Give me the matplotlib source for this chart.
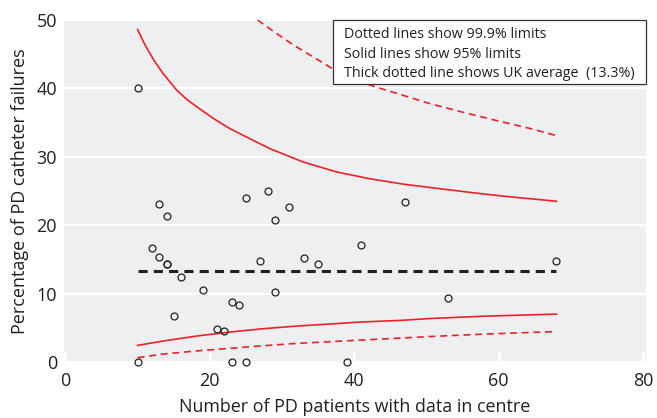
import matplotlib
matplotlib.use("Agg")
import matplotlib.pyplot as plt
from matplotlib.patches import Rectangle

plt.rcParams['font.family'] = ['Open Sans', 'DejaVu Sans']

# Centre data: number of PD patients and percentage of catheter failures
n_patients = [10, 10, 12, 13, 13, 14, 14, 14, 15, 16, 19, 21, 22, 23, 23, 24, 25, 25,
              27, 28, 29, 29, 31, 33, 35, 39, 41, 47, 53, 68]
pct_fail = [40.0, 0.0, 16.7, 23.1, 15.4, 21.4, 14.3, 14.3, 6.7, 12.5, 10.5, 4.8, 4.5, 8.7, 0.0,
            8.3, 24.0, 0.0, 14.8, 25.0, 20.7, 10.3, 22.6, 15.2, 14.3, 0.0, 17.1, 23.4, 9.4, 14.7]

uk_average = 13.3
avg_range = [10, 68]

# Control limits
up95_n = [10, 11, 12.2, 13.5, 15.4, 16.8, 18.2, 20.5, 22.8, 26.2, 28.3, 32.9, 37.5, 42.1,
          46.8, 51.4, 56.0, 60.6, 68]
upper95 = [48.6, 46.4, 44.2, 42.2, 39.75, 38.4, 37.3, 35.6, 34.1, 32.3, 31.2, 29.25, 27.8, 26.8,
           26.0, 25.4, 24.8, 24.25, 23.5]
up999_n = [26.6, 29.0, 31.5, 36.8, 42.1, 45.8, 50.4, 55.1, 59.7, 64.3, 68]
upper999 = [50.0, 48.2, 46.4, 43.0, 40.5, 39.3, 37.8, 36.5, 35.3, 34.15, 33.1]
low_n = [10, 13.5, 18.2, 22.8, 27.4, 32.0, 36.6, 40.8, 46.5, 50.4, 58, 68]
lower95 = [2.43, 3.06, 3.8, 4.38, 4.87, 5.25, 5.55, 5.84, 6.09, 6.35, 6.7, 7.0]
lower999 = [0.63, 1.16, 1.62, 2.0, 2.38, 2.72, 2.97, 3.2, 3.5, 3.72, 4.08, 4.45]

fig = plt.figure(figsize=(6.57, 4.18), dpi=100)
ax = fig.add_axes([64/657, 1 - 362/418, (646-64)/657, (362-20)/418])
ax.set_facecolor('#eeeff1')
for s in ax.spines.values():
    s.set_visible(False)

ax.set_xlim(-0.2, 80.4)
ax.set_ylim(0, 50)
ax.set_xticks([0, 20, 40, 60, 80])
ax.set_yticks([0, 10, 20, 30, 40, 50])
ax.grid(axis='y', color='white', linewidth=1.6)
ax.set_axisbelow(True)
ax.tick_params(axis='x', direction='in', color='white', length=8, width=2.2,
               labelsize=13, labelcolor='#231f20', pad=7)
ax.tick_params(axis='y', length=0, labelsize=13, labelcolor='#231f20', pad=5)

red = '#ee2027'
ax.plot(up95_n, upper95, color=red, lw=1.2)
ax.plot(low_n, lower95, color=red, lw=1.2)
ax.plot(up999_n, upper999, color=red, lw=1.2, dashes=(4.2, 2.8))
ax.plot(low_n, lower999, color=red, lw=1.2, dashes=(4.2, 2.8))

ax.plot(avg_range, [uk_average, uk_average], color='#231f20', lw=2.2, dashes=(3.0, 2.0))

ax.plot(n_patients, pct_fail, linestyle='none', marker='o', markersize=5,
        markerfacecolor='none', markeredgecolor='#231f20', markeredgewidth=0.9,
        clip_on=False, zorder=5)

ax.set_xlabel('Number of PD patients with data in centre', fontsize=12.9, color='#231f20', labelpad=6)
ax.set_ylabel('Percentage of PD catheter failures', fontsize=13, color='#231f20', labelpad=5)

# Legend box
box = Rectangle((0.4622, 0.8129), 1.0 - 0.4622, 1.0 - 0.8129, transform=ax.transAxes,
                facecolor='white', edgecolor='#333333', linewidth=0.9, zorder=6, clip_on=False)
ax.add_patch(box)
legend_lines = ['Dotted lines show 99.9% limits',
                'Solid lines show 95% limits',
                'Thick dotted line shows UK average  (13.3%)']
for i, line in enumerate(legend_lines):
    ax.text(0.481, 0.957 - i * 0.0565, line, transform=ax.transAxes, ha='left', va='center',
            fontsize=10.3, color='#231f20', zorder=7)

fig.savefig('out.png', dpi=100)
